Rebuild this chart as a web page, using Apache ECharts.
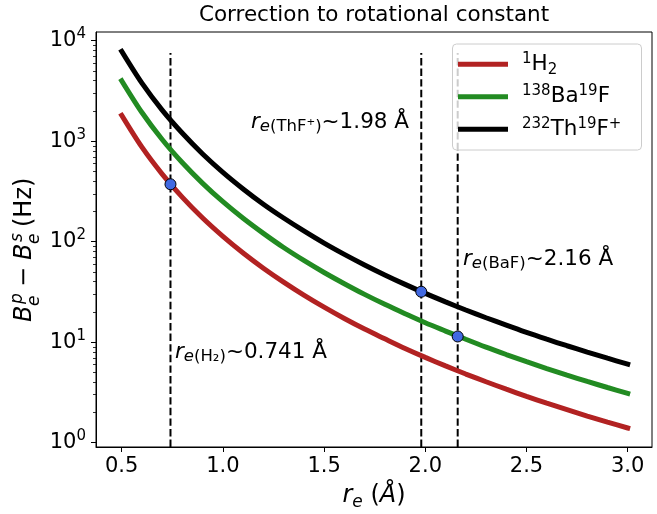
<!DOCTYPE html>
<html>
<head>
<meta charset="utf-8">
<script src="https://cdn.jsdelivr.net/npm/echarts@6/dist/echarts.min.js"></script>
<style>
html, body { margin: 0; background: #fff; }
#graph { width: 657px; height: 514px; }
</style>
</head>
<body>
<div id="graph"></div>
<script>
const chartDom = document.getElementById('graph')
const myChart = echarts.init(chartDom)

// r_e in Angstrom
const rValues = [0.5, 0.6, 0.7, 0.8, 0.9, 1.0, 1.1, 1.2, 1.3, 1.4, 1.5, 1.6, 1.7,
    1.8, 1.9, 2.0, 2.1, 2.2, 2.3, 2.4, 2.5, 2.6, 2.7, 2.8, 2.9, 3.0];
// B_e^p - B_e^s in Hz
const h2Values = [1810, 872, 471, 276, 172, 113, 77.2, 54.5, 39.6, 29.4, 22.3, 17.2, 13.5,
    10.8, 8.67, 7.06, 5.81, 4.82, 4.04, 3.41, 2.89, 2.47, 2.13, 1.84, 1.60, 1.40];
const bafValues = [4000, 1930, 1040, 610, 381, 250, 171, 121, 87.5, 65.1, 49.4, 38.2, 29.9,
    23.8, 19.2, 15.6, 12.9, 10.7, 8.93, 7.54, 6.40, 5.47, 4.71, 4.07, 3.54, 3.09];
const thfValues = [7840, 3780, 2040, 1200, 747, 490, 335, 236, 172, 128, 96.8, 74.8, 58.7,
    46.7, 37.6, 30.6, 25.2, 20.9, 17.5, 14.8, 12.5, 10.7, 9.22, 7.97, 6.93, 6.05];

const seriesNames = ['H2', 'BaF', 'ThF'];
const seriesColors = ['#b22222', '#228b22', '#000000'];
const legendLabels = ['{g|}{sup|1}H{sub|2}', '{g|}{sup|138}Ba{sup|19}F', '{g|}{sup|232}Th{sup|19}F{sup|+}'];

// equilibrium distances and the marked points
const markX = [0.741, 1.98, 2.16];
const markY = [373, 31.8, 11.4];
const vlineSpan = [0.906, 7550];

const xTicks = [0.5, 1.0, 1.5, 2.0, 2.5, 3.0];
const yTicks = [1, 10, 100, 1000, 10000];
const yMinorTicks = [];
[1, 10, 100, 1000].forEach(d => {
    for (let k = 2; k <= 9; k++) yMinorTicks.push(d * k);
});

const font = 'DejaVu Sans';
const supRich = {
    ri: { fontStyle: 'italic', fontFamily: font, fontSize: 21.5, lineHeight: 26 },
    se: { fontStyle: 'italic', fontFamily: font, fontSize: 16.5, lineHeight: 15, verticalAlign: 'bottom' },
    sn: { fontFamily: font, fontSize: 16.5, lineHeight: 15, verticalAlign: 'bottom' }
};

function annot(text, x, y) {
    return {
        type: 'text', x: x, y: y, z: 30,
        style: {
            text: text, fontFamily: font, fontSize: 21.5, lineHeight: 26, fill: '#000',
            align: 'left', verticalAlign: 'middle', rich: supRich
        }
    };
}

const lineSeries = seriesNames.map((name, i) => ({
    name: name,
    type: 'line',
    data: rValues.map((r, j) => [r, [h2Values, bafValues, thfValues][i][j]]),
    showSymbol: false,
    smooth: 0.3,
    color: seriesColors[i],
    lineStyle: { width: 5, color: seriesColors[i], cap: 'square' },
    z: 3,
    silent: true
}));

const vlineSeries = markX.map(x => ({
    type: 'line',
    data: [[x, vlineSpan[0]], [x, vlineSpan[1]]],
    showSymbol: false,
    lineStyle: { width: 2, color: '#000', type: [7.4, 3.2] },
    z: 2,
    silent: true
}));

const option = {
    animation: false,
    grid: { left: 96, top: 32, right: 5, bottom: 67, show: true, borderColor: '#000', borderWidth: 1 },
    xAxis: {
        type: 'value',
        min: 0.373,
        max: 3.12,
        axisLine: { onZero: false, lineStyle: { color: '#000', width: 1 } },
        axisTick: { customValues: xTicks, length: 5, lineStyle: { color: '#000', width: 1 } },
        axisLabel: {
            customValues: xTicks, margin: 9, color: '#000', fontFamily: font, fontSize: 21,
            formatter: v => v.toFixed(1)
        },
        splitLine: { show: false }
    },
    yAxis: [{
        type: 'log',
        logBase: 10,
        min: 0.906,
        max: 12210,
        axisLine: { lineStyle: { color: '#000', width: 1 } },
        axisTick: { customValues: yTicks, length: 5, lineStyle: { color: '#000', width: 1 } },
        axisLabel: {
            customValues: yTicks, margin: 10, color: '#000', fontFamily: font, fontSize: 21, lineHeight: 28,
            formatter: v => '10{sup|' + Math.round(Math.log10(v)) + '}',
            rich: { sup: { fontFamily: font, fontSize: 15, lineHeight: 15, verticalAlign: 'top', color: '#000' } }
        },
        splitLine: { show: false }
    }, {
        type: 'log',
        logBase: 10,
        min: 0.906,
        max: 12210,
        position: 'left',
        axisLine: { show: false },
        axisTick: { customValues: yMinorTicks, length: 3, lineStyle: { color: '#000', width: 0.8 } },
        axisLabel: { show: false },
        splitLine: { show: false }
    }],
    legend: {
        data: seriesNames,
        orient: 'vertical',
        left: 458,
        top: 51.3,
        padding: 0,
        itemGap: 6.5,
        itemWidth: 50,
        itemHeight: 5,
        icon: 'rect',
        selectedMode: false,
        z: 40,
        formatter: name => legendLabels[seriesNames.indexOf(name)],
        textStyle: {
            fontFamily: font, fontSize: 21.5, lineHeight: 26, color: '#000',
            rich: {
                g: { width: 9 },
                sup: { fontFamily: font, fontSize: 15, lineHeight: 15, verticalAlign: 'top' },
                sub: { fontFamily: font, fontSize: 15, lineHeight: 15, verticalAlign: 'bottom' }
            }
        }
    },
    graphic: [
        {
            type: 'rect', z: 35,
            shape: { x: 452.5, y: 44, width: 189, height: 106, r: 4 },
            style: { fill: 'rgba(255,255,255,0.8)', stroke: '#cccccc', lineWidth: 1 }
        },
        {
            type: 'text', x: 374, y: 15,
            style: {
                text: 'Correction to rotational constant', fontFamily: font, fontSize: 21.5,
                fill: '#000', align: 'center', verticalAlign: 'middle'
            }
        },
        {
            type: 'text', x: 374, y: 496,
            style: {
                text: '{ri|r}{se|e} ({ia|\u00c5})',
                fontFamily: font, fontSize: 24, lineHeight: 30, fill: '#000',
                align: 'center', verticalAlign: 'middle',
                rich: {
                    ri: { fontStyle: 'italic', fontFamily: font, fontSize: 24, lineHeight: 30 },
                    ia: { fontStyle: 'italic', fontFamily: font, fontSize: 24, lineHeight: 30 },
                    se: { fontStyle: 'italic', fontFamily: font, fontSize: 17, lineHeight: 17, verticalAlign: 'bottom' }
                }
            }
        },
        {
            type: 'group', x: 25, y: 245, rotation: Math.PI / 2,
            children: [
                { type: 'text', x: -77, y: 0, style: { text: 'B', fontFamily: font, fontStyle: 'italic', fontSize: 24, fill: '#000', verticalAlign: 'middle' } },
                { type: 'text', x: -59, y: -7, style: { text: 'p', fontFamily: font, fontStyle: 'italic', fontSize: 17, fill: '#000', verticalAlign: 'middle' } },
                { type: 'text', x: -61, y: 10, style: { text: 'e', fontFamily: font, fontStyle: 'italic', fontSize: 17, fill: '#000', verticalAlign: 'middle' } },
                { type: 'text', x: -42, y: 0, style: { text: '\u2212', fontFamily: font, fontSize: 24, fill: '#000', verticalAlign: 'middle' } },
                { type: 'text', x: -15, y: 0, style: { text: 'B', fontFamily: font, fontStyle: 'italic', fontSize: 24, fill: '#000', verticalAlign: 'middle' } },
                { type: 'text', x: 3, y: -7, style: { text: 's', fontFamily: font, fontStyle: 'italic', fontSize: 17, fill: '#000', verticalAlign: 'middle' } },
                { type: 'text', x: 1, y: 10, style: { text: 'e', fontFamily: font, fontStyle: 'italic', fontSize: 17, fill: '#000', verticalAlign: 'middle' } },
                { type: 'text', x: 18, y: 0, style: { text: '(Hz)', fontFamily: font, fontSize: 24, fill: '#000', verticalAlign: 'middle' } }
            ]
        },
        annot('{ri|r}{se|e}{sn|(ThF\u207a)}~1.98 \u00c5', 251, 122),
        annot('{ri|r}{se|e}{sn|(H\u2082)}~0.741 \u00c5', 175, 352),
        annot('{ri|r}{se|e}{sn|(BaF)}~2.16 \u00c5', 463, 259)
    ],
    series: vlineSeries.concat(lineSeries, [{
        type: 'scatter',
        data: markX.map((x, i) => [x, markY[i]]),
        symbolSize: 11,
        itemStyle: { color: '#4169e1', borderColor: '#000', borderWidth: 1, opacity: 1 },
        z: 5,
        silent: true
    }])
};

option && myChart.setOption(option);
</script>
</body>
</html>
